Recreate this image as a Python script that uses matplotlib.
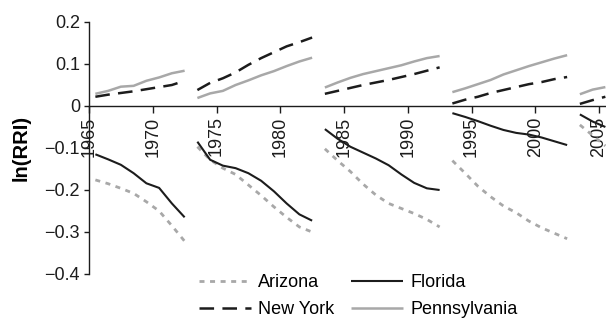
import matplotlib
matplotlib.use("Agg")
import matplotlib.pyplot as plt

plt.rcParams['font.family'] = ['Liberation Sans', 'DejaVu Sans']
plt.rcParams['lines.scale_dashes'] = False

# Segment years (each segment is drawn as a separate line piece)
seg_years = [
    [1965, 1966, 1967, 1968, 1969, 1970, 1971, 1972],
    [1973, 1974, 1975, 1976, 1977, 1978, 1979, 1980, 1981, 1982],
    [1983, 1984, 1985, 1986, 1987, 1988, 1989, 1990, 1991, 1992],
    [1993, 1994, 1995, 1996, 1997, 1998, 1999, 2000, 2001, 2002],
    [2003, 2004, 2005],
]

arizona = [
    [-0.176, -0.185, -0.196, -0.208, -0.228, -0.250, -0.285, -0.322],
    [-0.097, -0.128, -0.148, -0.163, -0.188, -0.213, -0.240, -0.265, -0.288, -0.300],
    [-0.102, -0.130, -0.156, -0.186, -0.212, -0.232, -0.244, -0.256, -0.270, -0.288],
    [-0.130, -0.160, -0.191, -0.216, -0.238, -0.254, -0.274, -0.290, -0.303, -0.316],
    [-0.045, -0.070, -0.095],
]
florida = [
    [-0.115, -0.127, -0.140, -0.160, -0.184, -0.195, -0.232, -0.265],
    [-0.085, -0.128, -0.142, -0.148, -0.160, -0.178, -0.203, -0.232, -0.258, -0.273],
    [-0.055, -0.078, -0.097, -0.111, -0.125, -0.141, -0.163, -0.183, -0.196, -0.200],
    [-0.017, -0.026, -0.036, -0.047, -0.057, -0.064, -0.068, -0.075, -0.084, -0.093],
    [-0.020, -0.037, -0.050],
]
new_york = [
    [0.022, 0.027, 0.031, 0.035, 0.040, 0.045, 0.050, 0.060],
    [0.038, 0.055, 0.066, 0.080, 0.098, 0.114, 0.128, 0.142, 0.152, 0.163],
    [0.029, 0.036, 0.043, 0.050, 0.056, 0.062, 0.069, 0.076, 0.084, 0.092],
    [0.006, 0.015, 0.022, 0.031, 0.038, 0.045, 0.052, 0.057, 0.064, 0.069],
    [0.005, 0.014, 0.022],
]
pennsylvania = [
    [0.029, 0.036, 0.046, 0.048, 0.060, 0.068, 0.078, 0.084],
    [0.019, 0.030, 0.036, 0.050, 0.061, 0.073, 0.083, 0.095, 0.106, 0.115],
    [0.044, 0.056, 0.067, 0.076, 0.083, 0.090, 0.097, 0.106, 0.114, 0.119],
    [0.033, 0.042, 0.052, 0.062, 0.075, 0.085, 0.095, 0.104, 0.113, 0.121],
    [0.028, 0.039, 0.045],
]

x_ticks = [1965, 1970, 1975, 1980, 1985, 1990, 1995, 2000, 2005]
x_labels = ['1965', '1970', '1975', '1980', '1985', '1990', '1995', '2000', '2005']
y_ticks = [-0.4, -0.3, -0.2, -0.1, 0, 0.1, 0.2]
y_labels = ['\u22120.4', '\u22120.3', '\u22120.2', '\u22120.1', '0', '0.1', '0.2']

BLACK = '#1c1c1c'
GRAY = '#a8a8a8'

styles = {
    'Arizona': dict(color=GRAY, lw=2.0, ls=(0, (3.6, 4.0))),
    'Florida': dict(color=BLACK, lw=1.5, ls='-'),
    'New York': dict(color=BLACK, lw=1.8, ls=(0, (10.5, 6.0))),
    'Pennsylvania': dict(color=GRAY, lw=1.8, ls='-'),
}
series = {'Arizona': arizona, 'Florida': florida,
          'New York': new_york, 'Pennsylvania': pennsylvania}

fig = plt.figure(figsize=(6.06, 3.2), dpi=100)
ax = fig.add_axes([89 / 606, 46 / 320, 517 / 606, 252 / 320])

handles = {}
for name in ['Pennsylvania', 'Arizona', 'New York', 'Florida']:
    for yrs, vals in zip(seg_years, series[name]):
        xs = [y + 0.5 for y in yrs]
        ln, = ax.plot(xs, vals, label=name, solid_capstyle='butt',
                      dash_capstyle='butt', **styles[name])
        handles[name] = ln

ax.set_xlim(1965, 1965 + 517 / 12.75)
ax.set_ylim(-0.4, 0.2)
ax.spines['top'].set_visible(False)
ax.spines['right'].set_visible(False)
ax.spines['bottom'].set_position(('data', 0))
for s in ['left', 'bottom']:
    ax.spines[s].set_color(BLACK)
    ax.spines[s].set_linewidth(1.0)

ax.set_xticks(x_ticks)
ax.set_xticklabels(x_labels, rotation=90, fontsize=13)
ax.set_yticks(y_ticks)
ax.set_yticklabels(y_labels, fontsize=13)
ax.tick_params(axis='x', direction='out', length=5, width=1, pad=2.5, colors=BLACK)
ax.tick_params(axis='y', direction='out', length=3.5, width=1, pad=3, colors=BLACK)
for lbl in ax.get_xticklabels():
    lbl.set_va('top')

ax.set_ylabel('ln(RRI)', fontsize=14.5, fontweight='bold', labelpad=10)

# column-major fill: row 1 = Arizona, Florida; row 2 = New York, Pennsylvania
order = ['Arizona', 'New York', 'Florida', 'Pennsylvania']
fig.legend([handles[n] for n in order], order, loc='center',
           bbox_to_anchor=(358 / 606, 1 - 296 / 320), ncol=2, frameon=False,
           fontsize=13, handlelength=2.9, handletextpad=0.4,
           columnspacing=0.9, labelspacing=0.55, borderpad=0)

fig.savefig('out.png', dpi=100)
